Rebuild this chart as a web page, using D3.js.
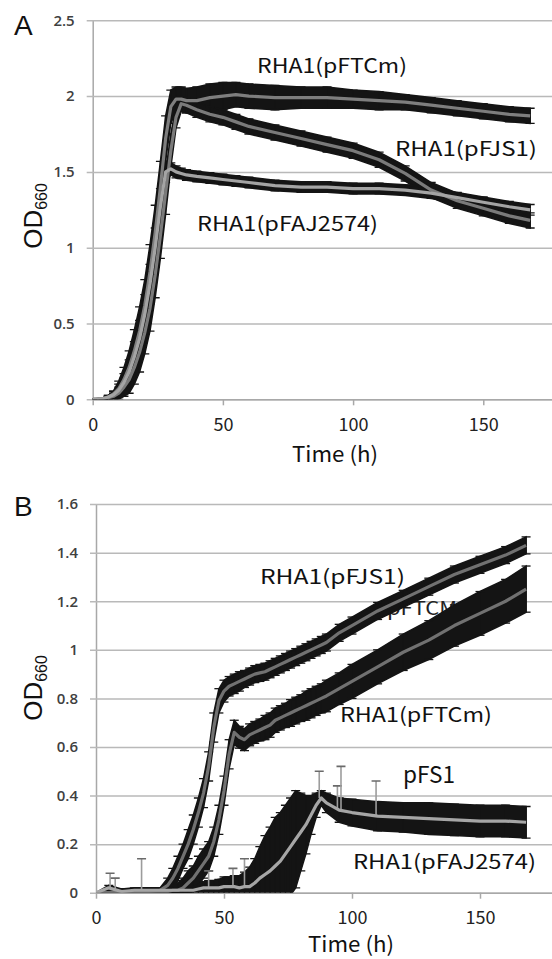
<!DOCTYPE html>
<html>
<head>
<meta charset="utf-8">
<script src="https://cdn.jsdelivr.net/npm/d3@7"></script>
<style>
  html, body { margin: 0; padding: 0; background: #fff; }
  svg { display: block; }
</style>
</head>
<body>
<script>
// ---- panel A data (OD660 vs time, h) ----
var timeA = [0,4,6,8,10,12,14,16,18,20,22,24,26,28,30,32,34,36,40,45,50,55,60,70,80,90,100,110,120,130,140,150,160,168];
var ftcmA   = [0,0.005,0.015,0.035,0.07,0.13,0.21,0.32,0.45,0.62,0.84,1.1,1.4,1.72,1.93,1.98,1.98,1.97,1.97,1.99,2.0,2.01,2.0,1.99,1.99,1.99,1.98,1.97,1.96,1.94,1.92,1.9,1.88,1.87];
var ftcmSdA = [0,0.005,0.01,0.02,0.05,0.08,0.11,0.14,0.16,0.17,0.18,0.18,0.17,0.15,0.11,0.08,0.08,0.08,0.09,0.09,0.09,0.08,0.08,0.08,0.07,0.07,0.06,0.06,0.05,0.05,0.05,0.05,0.05,0.05];
var fjs1A   = [0,0,0.01,0.02,0.04,0.08,0.13,0.21,0.31,0.44,0.6,0.82,1.08,1.36,1.64,1.86,1.95,1.94,1.91,1.88,1.86,1.83,1.8,1.76,1.72,1.68,1.64,1.58,1.49,1.38,1.31,1.26,1.21,1.18];
var fjs1SdA = [0,0,0.01,0.02,0.04,0.06,0.09,0.11,0.13,0.14,0.15,0.15,0.15,0.14,0.11,0.07,0.05,0.05,0.05,0.05,0.05,0.05,0.05,0.05,0.05,0.05,0.05,0.05,0.05,0.05,0.05,0.05,0.05,0.05];
var fajA    = [0,0.005,0.015,0.03,0.06,0.11,0.18,0.28,0.4,0.56,0.76,1.0,1.27,1.5,1.52,1.5,1.49,1.48,1.47,1.46,1.45,1.44,1.43,1.41,1.4,1.4,1.39,1.39,1.38,1.36,1.33,1.3,1.27,1.25];
var fajSdA  = [0,0.005,0.01,0.02,0.04,0.06,0.08,0.1,0.12,0.13,0.13,0.13,0.12,0.07,0.04,0.04,0.035,0.035,0.035,0.035,0.035,0.035,0.035,0.035,0.035,0.035,0.035,0.035,0.035,0.035,0.035,0.035,0.035,0.035];
var yTicksA = [0,0.5,1,1.5,2,2.5];

// ---- panel B data ----
var timeB = [0,5,10,15,20,25,28,30,32,34,36,38,40,42,44,46,48,50,52,54,56,58,60,62,64,66,68,70,72,74,76,78,80,82,84,86,88,90,95,100,110,120,130,140,150,160,168];
var fjs1B   = [0,0,0.005,0.005,0.005,0.01,0.03,0.06,0.1,0.15,0.2,0.26,0.33,0.41,0.52,0.68,0.79,0.83,0.85,0.86,0.87,0.88,0.89,0.9,0.905,0.91,0.92,0.93,0.94,0.95,0.96,0.97,0.98,0.99,1.0,1.01,1.02,1.03,1.07,1.1,1.16,1.21,1.26,1.31,1.35,1.39,1.43];
var fjs1SdB = [0,0.01,0.01,0.01,0.01,0.01,0.03,0.04,0.05,0.05,0.06,0.06,0.06,0.06,0.06,0.06,0.05,0.045,0.04,0.04,0.04,0.035,0.035,0.035,0.035,0.035,0.035,0.035,0.035,0.035,0.035,0.035,0.035,0.035,0.035,0.035,0.035,0.035,0.035,0.035,0.035,0.035,0.035,0.035,0.035,0.035,0.035];
var ftcmB   = [0,0,0,0,0,0.005,0.005,0.01,0.01,0.02,0.04,0.06,0.09,0.12,0.15,0.21,0.3,0.42,0.57,0.66,0.64,0.63,0.65,0.66,0.67,0.68,0.69,0.71,0.72,0.73,0.74,0.75,0.76,0.77,0.78,0.79,0.8,0.81,0.84,0.87,0.93,0.99,1.04,1.1,1.15,1.2,1.25];
var ftcmSdB = [0,0.005,0.005,0.005,0.005,0.01,0.01,0.02,0.03,0.04,0.05,0.05,0.06,0.06,0.06,0.06,0.06,0.06,0.06,0.05,0.045,0.045,0.045,0.045,0.045,0.05,0.05,0.05,0.05,0.05,0.055,0.055,0.055,0.06,0.06,0.06,0.06,0.065,0.065,0.07,0.07,0.075,0.08,0.085,0.09,0.09,0.095];
var fajB    = [0,0.02,0.005,0.01,0.01,0.01,0.01,0.01,0.01,0.01,0.01,0.01,0.015,0.02,0.02,0.02,0.02,0.025,0.025,0.025,0.02,0.025,0.025,0.04,0.06,0.075,0.09,0.11,0.13,0.16,0.19,0.22,0.25,0.28,0.32,0.36,0.39,0.37,0.34,0.33,0.315,0.31,0.305,0.3,0.295,0.295,0.29];
var fajSdB  = [0,0.01,0.01,0.01,0.01,0.01,0.01,0.01,0.01,0.01,0.01,0.015,0.02,0.025,0.03,0.03,0.035,0.04,0.04,0.045,0.05,0.06,0.08,0.1,0.13,0.16,0.18,0.2,0.2,0.2,0.2,0.2,0.16,0.12,0.08,0.05,0.03,0.04,0.05,0.055,0.06,0.06,0.065,0.065,0.065,0.065,0.065];
// single tall error bars (pFAJ2574 replicate outliers)
var spikeTimeB = [5.5,7.5,17.8,44,53.5,58,87.2,94.3,95.7,109.4];
var spikeTopB  = [0.08,0.06,0.14,0.09,0.1,0.14,0.5,0.44,0.52,0.46];
var yTicksB = [0,0.2,0.4,0.6,0.8,1,1.2,1.4,1.6];

var xTicks = [0,50,100,150];

var W = 552, H = 959;
var labelFont = "'Noto Sans CJK JP', 'Noto Sans', sans-serif";

var svg = d3.select('body').append('svg')
    .attr('width', W)
    .attr('height', H);

function drawPanel(p) {
    var g = svg.append('g');
    var x = p.x, y = p.y;
    var x0 = x.range()[0], y0 = y.range()[0];

    // y axis with gridlines
    var ya = g.append('g')
        .attr('transform', 'translate(' + x0 + ',0)')
        .call(d3.axisLeft(y).tickValues(p.yTicks).tickSize(-(W - x0)).tickSizeOuter(0)
            .tickPadding(18).tickFormat(d3.format('')));
    ya.selectAll('.tick line').attr('x1', -6).attr('stroke', '#b9b9b9').attr('stroke-width', 1.5);
    ya.select('.domain').attr('stroke', '#a8a8a8').attr('stroke-width', 1.5);
    ya.selectAll('text')
        .attr('font-family', "'Open Sans', sans-serif")
        .attr('font-size', 15)
        .attr('font-weight', 600)
        .attr('fill', '#404040');

    // x axis
    var xa = g.append('g')
        .attr('transform', 'translate(0,' + y0 + ')')
        .call(d3.axisBottom(x).tickValues(xTicks).tickSize(6).tickSizeOuter(0).tickPadding(13));
    xa.selectAll('.tick line').attr('stroke', '#a8a8a8').attr('stroke-width', 1.5);
    xa.select('.domain').attr('stroke', '#a8a8a8').attr('stroke-width', 1.5);
    xa.selectAll('text')
        .attr('font-family', labelFont)
        .attr('font-size', 18)
        .attr('fill', '#222');

    // labels drawn under the data
    (p.underLabels || []).forEach(function(l) { addLabel(g, l); });

    var clipId = 'clip' + p.id;
    svg.append('clipPath').attr('id', clipId)
        .append('rect')
        .attr('x', x0).attr('y', y.range()[1] - 20)
        .attr('width', W - x0).attr('height', y0 - y.range()[1] + 20);

    var data = g.append('g').attr('clip-path', 'url(#' + clipId + ')');

    var pts = p.series.map(function(s) {
        return s.t.map(function(t, i) { return {t: t, m: s.m[i], sd: s.sd[i]}; });
    });

    // error bands
    var band = d3.area()
        .x(function(d) { return x(d.t); })
        .y0(function(d) { return y(d.m - d.sd); })
        .y1(function(d) { return y(d.m + d.sd); });

    pts.forEach(function(ps) {
        data.append('path')
            .datum(ps)
            .attr('d', band)
            .attr('fill', '#141414')
            .attr('stroke', '#141414')
            .attr('stroke-width', 1.5);

        var eb = data.append('g').attr('stroke', '#141414').attr('stroke-width', 1.3);
        eb.selectAll('line.bar').data(ps).enter().append('line')
            .attr('x1', function(d) { return x(d.t); })
            .attr('x2', function(d) { return x(d.t); })
            .attr('y1', function(d) { return y(d.m - d.sd); })
            .attr('y2', function(d) { return y(d.m + d.sd); });
        eb.selectAll('line.top').data(ps).enter().append('line')
            .attr('x1', function(d) { return x(d.t) - 4.5; })
            .attr('x2', function(d) { return x(d.t) + 4.5; })
            .attr('y1', function(d) { return y(d.m + d.sd); })
            .attr('y2', function(d) { return y(d.m + d.sd); });
        eb.selectAll('line.bot').data(ps).enter().append('line')
            .attr('x1', function(d) { return x(d.t) - 4.5; })
            .attr('x2', function(d) { return x(d.t) + 4.5; })
            .attr('y1', function(d) { return y(d.m - d.sd); })
            .attr('y2', function(d) { return y(d.m - d.sd); });
    });

    // spikes
    if (p.spikes) {
        var s = p.spikes;
        var bis = d3.bisector(function(d) { return d.t; }).center;
        var base = pts[s.series];
        var sg = data.append('g');
        s.t.forEach(function(t, i) {
            var b = base[bis(base, t)].m;
            sg.append('line')
                .attr('x1', x(t)).attr('x2', x(t))
                .attr('y1', y(b)).attr('y2', y(s.top[i]))
                .attr('stroke', '#9c9c9c').attr('stroke-width', 1.6);
            sg.append('line')
                .attr('x1', x(t) - 4.5).attr('x2', x(t) + 4.5)
                .attr('y1', y(s.top[i])).attr('y2', y(s.top[i]))
                .attr('stroke', '#6a6a6a').attr('stroke-width', 1.6);
        });
    }

    // mean lines
    var line = d3.line()
        .x(function(d) { return x(d.t); })
        .y(function(d) { return y(d.m); });
    pts.forEach(function(ps, i) {
        data.append('path')
            .datum(ps)
            .attr('d', line)
            .attr('fill', 'none')
            .attr('stroke', p.series[i].color)
            .attr('stroke-width', 3.2)
            .attr('stroke-linejoin', 'round');
    });

    (p.labels || []).forEach(function(l) { addLabel(g, l); });

    // panel letter
    g.append('text')
        .attr('x', 14).attr('y', p.letterY)
        .attr('font-family', "'Liberation Sans', Arial, sans-serif")
        .attr('font-size', 28)
        .attr('fill', '#111')
        .text(p.id);

    // y title OD660
    var yt = g.append('text')
        .attr('transform', 'translate(42,' + p.yTitleY + ') rotate(-90)')
        .attr('text-anchor', 'middle')
        .attr('font-family', "'Liberation Sans', Arial, sans-serif")
        .attr('fill', '#111');
    yt.append('tspan').attr('font-size', 26).text('OD');
    yt.append('tspan').attr('font-size', 16).attr('dy', 5).text('660');

    // x title
    g.append('text')
        .attr('x', p.xTitle[0]).attr('y', p.xTitle[1])
        .attr('text-anchor', 'middle')
        .attr('font-family', labelFont)
        .attr('font-size', 21)
        .attr('textLength', 86)
        .attr('lengthAdjust', 'spacingAndGlyphs')
        .attr('fill', '#111')
        .text('Time (h)');
}

function addLabel(g, l) {
    g.append('text')
        .attr('x', l.x).attr('y', l.y)
        .attr('font-family', labelFont)
        .attr('font-size', l.size || 20)
        .attr('textLength', l.w)
        .attr('lengthAdjust', 'spacingAndGlyphs')
        .attr('fill', l.fill || '#111')
        .text(l.text);
}

drawPanel({
    id: 'A',
    x: d3.scaleLinear().domain([0, 180]).range([92.7, 561.4]),
    y: d3.scaleLinear().domain([0, 2.5]).range([399.3, 20.3]),
    yTicks: yTicksA,
    series: [
        {t: timeA, m: ftcmA, sd: ftcmSdA, color: '#7e7e7e'},
        {t: timeA, m: fjs1A, sd: fjs1SdA, color: '#7a7a7a'},
        {t: timeA, m: fajA,  sd: fajSdA,  color: '#a4a4a4'}
    ],
    labels: [
        {text: 'RHA1(pFTCm)', x: 257, y: 73, w: 150},
        {text: 'RHA1(pFJS1)', x: 395, y: 156, w: 142},
        {text: 'RHA1(pFAJ2574)', x: 197, y: 231, w: 181}
    ],
    letterY: 35,
    yTitleY: 216,
    xTitle: [335, 462]
});

drawPanel({
    id: 'B',
    x: d3.scaleLinear().domain([0, 180]).range([96, 556.8]),
    y: d3.scaleLinear().domain([0, 1.6]).range([892.7, 504.1]),
    yTicks: yTicksB,
    series: [
        {t: timeB, m: fjs1B, sd: fjs1SdB, color: '#717171'},
        {t: timeB, m: ftcmB, sd: ftcmSdB, color: '#717171'},
        {t: timeB, m: fajB,  sd: fajSdB,  color: '#a6a6a6'}
    ],
    spikes: {series: 2, t: spikeTimeB, top: spikeTopB},
    underLabels: [
        {text: 'pFTCM', x: 387, y: 615, w: 70, size: 19, fill: '#222'}
    ],
    labels: [
        {text: 'RHA1(pFJS1)', x: 260, y: 584, w: 145},
        {text: 'RHA1(pFTCm)', x: 340, y: 722, w: 152},
        {text: 'pFS1', x: 403, y: 783, w: 52, size: 23},
        {text: 'RHA1(pFAJ2574)', x: 353, y: 869, w: 183}
    ],
    letterY: 516,
    yTitleY: 688,
    xTitle: [351, 952]
});
</script>
</body>
</html>
